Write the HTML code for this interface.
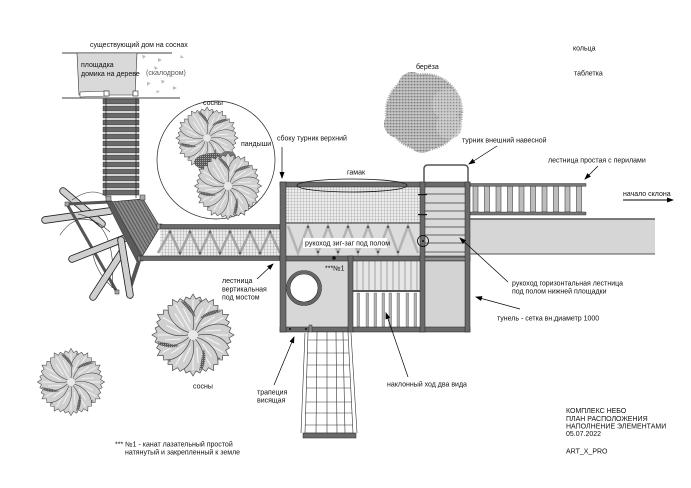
<!DOCTYPE html>
<html><head><meta charset="utf-8">
<style>
html,body{margin:0;padding:0;background:#fff;}
svg{display:block;}
text{font-family:"Liberation Sans",Arial,sans-serif;font-size:7px;fill:#111;}
</style></head><body>
<svg width="691" height="488" viewBox="0 0 691 488" xmlns="http://www.w3.org/2000/svg">
<defs>
<pattern id="mesh" width="3" height="3" patternUnits="userSpaceOnUse">
<rect width="3" height="3" fill="#ededed"/>
<path d="M0 0.5H3M0.5 0V3" stroke="#b9b9b9" stroke-width="0.6"/>
</pattern>
<pattern id="speck" width="3" height="3" patternUnits="userSpaceOnUse">
<rect width="3" height="3" fill="#b8b8b8"/>
<circle cx="0.7" cy="0.7" r="0.6" fill="#6a6a6a"/>
<circle cx="2.1" cy="2.1" r="0.5" fill="#eeeeee"/>
<circle cx="2.3" cy="0.5" r="0.35" fill="#888"/>
</pattern>
<pattern id="speckL" width="3" height="3" patternUnits="userSpaceOnUse">
<rect width="3" height="3" fill="#c6c6c6"/>
<circle cx="0.7" cy="0.7" r="0.55" fill="#7a7a7a"/>
<circle cx="2.1" cy="2.1" r="0.5" fill="#f0f0f0"/>
</pattern>
<pattern id="dspeck" width="2" height="2" patternUnits="userSpaceOnUse">
<rect width="2" height="2" fill="#5a5a5a"/>
<circle cx="0.5" cy="0.5" r="0.45" fill="#c8c8c8"/>
</pattern>
<pattern id="stripes" width="3" height="3" patternUnits="userSpaceOnUse" patternTransform="rotate(60)">
<rect width="3" height="3" fill="#8a8a8a"/>
<path d="M0 1.5H3" stroke="#4a4a4a" stroke-width="0.8"/>
</pattern>
<marker id="ah" markerWidth="7" markerHeight="6" refX="6" refY="3" orient="auto" markerUnits="userSpaceOnUse">
<path d="M0,0.5 L7,3 L0,5.5z" fill="#000"/>
</marker>
<g id="petal">
<path d="M0,-2 C9,-10 13,-22 10,-32 L7,-38 L3,-36 L0,-41 L-3,-36 L-7,-38 L-10,-32 C-13,-22 -9,-10 0,-2z" fill="#d0d0d0" stroke="#4a4a4a" stroke-width="0.7"/>
<path d="M0,-6 L0,-35 M-4,-12 L-5,-28 M4,-12 L5,-28" stroke="#f4f4f4" stroke-width="1.1"/>
</g>
<g id="petalD">
<use href="#petal"/>
<path d="M10,-32 C13,-26 13,-20 11,-14 C9,-20 8,-28 6,-36z" fill="url(#dspeck)"/>
</g>
<g id="petalE">
<use href="#petal"/>
<path d="M-10,-32 C-13,-26 -13,-20 -11,-14 C-9,-20 -8,-28 -6,-36z" fill="url(#dspeck)"/>
</g>
<g id="pine">
<use href="#petalD" transform="rotate(0)"/>
<use href="#petal" transform="rotate(30)"/>
<use href="#petalE" transform="rotate(60)"/>
<use href="#petal" transform="rotate(90)"/>
<use href="#petalD" transform="rotate(120)"/>
<use href="#petal" transform="rotate(150)"/>
<use href="#petalE" transform="rotate(180)"/>
<use href="#petalD" transform="rotate(210)"/>
<use href="#petal" transform="rotate(240)"/>
<use href="#petalE" transform="rotate(270)"/>
<use href="#petal" transform="rotate(300)"/>
<use href="#petalD" transform="rotate(330)"/>
<circle r="5" fill="#e8e8e8"/>
</g>
</defs>

<rect width="691" height="488" fill="#fff"/>

<!-- house -->
<text x="90" y="47">существующий дом на соснах</text>
<line x1="62" y1="53" x2="172" y2="53" stroke="#000" stroke-width="0.8"/>
<line x1="62" y1="98" x2="180" y2="98" stroke="#000" stroke-width="0.8"/>
<polygon points="77,53 137,53 135,95 79,95" fill="#d9d9d9" stroke="#333" stroke-width="0.6"/>
<polygon points="80,92 108,91 108,96 80,97" fill="#fff" stroke="#333" stroke-width="0.5"/>
<rect x="104" y="91" width="5" height="5" fill="#fff" stroke="#222" stroke-width="0.6"/>
<rect x="133" y="91" width="5" height="5" fill="#fff" stroke="#222" stroke-width="0.6"/>
<text x="81" y="67">площадка</text>
<text x="81" y="76">домика на дереве</text>
<text x="146" y="75" style="fill:#555">(скалодром)</text>
<g fill="#bdbdbd">
<polygon points="142,55 146,56 143,59"/><polygon points="158,58 162,60 158,62"/><polygon points="181,55 184,58 180,58"/>
<polygon points="154,66 158,68 155,70"/><polygon points="170,74 173,77 169,77"/><polygon points="147,82 151,83 147,86"/>
<polygon points="161,80 165,81 162,84"/><polygon points="173,86 177,88 173,90"/><polygon points="157,90 160,92 156,93"/>
</g>

<!-- upper ladder -->
<g fill="#6a6a6a" stroke="#222" stroke-width="0.4">
<rect x="103" y="99" width="36" height="5"/><rect x="103" y="106" width="36" height="5"/><rect x="103" y="113" width="36" height="5"/>
<rect x="103" y="120" width="36" height="5"/><rect x="103" y="127" width="36" height="5"/><rect x="103" y="134" width="36" height="5"/>
<rect x="103" y="141" width="36" height="5"/><rect x="103" y="148" width="36" height="5"/><rect x="103" y="155" width="36" height="5"/>
<rect x="103" y="162" width="36" height="5"/><rect x="103" y="169" width="36" height="5"/><rect x="103" y="176" width="36" height="5"/>
<rect x="103" y="183" width="36" height="5"/><rect x="103" y="190" width="36" height="5"/>
</g>
<line x1="106" y1="98" x2="106" y2="198" stroke="#222" stroke-width="0.7"/>
<line x1="136" y1="98" x2="136" y2="198" stroke="#222" stroke-width="0.7"/>

<!-- logs -->
<g stroke-linecap="round">
<line x1="63" y1="191" x2="102" y2="224" stroke="#222" stroke-width="7.5"/><line x1="63" y1="191" x2="102" y2="224" stroke="#cfcfcf" stroke-width="5.8"/>
<line x1="45" y1="220" x2="110" y2="211" stroke="#222" stroke-width="7.5"/><line x1="45" y1="220" x2="110" y2="211" stroke="#cfcfcf" stroke-width="5.8"/>
</g>
<path d="M67,204 L117,292" stroke="#555" stroke-width="3" fill="none"/>
<path d="M67,204 L109,202" stroke="#555" stroke-width="3" fill="none"/>
<path d="M72,200 Q100,180 118,210 M78,214 Q118,222 112,288 M92,250 Q96,275 116,290 M60,235 Q80,205 110,232" stroke="#333" stroke-width="0.6" fill="none"/>
<g stroke-linecap="round">
<line x1="72" y1="259" x2="138" y2="233" stroke="#222" stroke-width="7.5"/><line x1="72" y1="259" x2="138" y2="233" stroke="#cfcfcf" stroke-width="5.8"/>
<line x1="93" y1="297" x2="122" y2="252" stroke="#222" stroke-width="7.5"/><line x1="93" y1="297" x2="122" y2="252" stroke="#cfcfcf" stroke-width="5.8"/>
</g>
<!-- landing -->
<polygon points="109,202 143,199 160,227 140,260" fill="url(#stripes)" stroke="#222" stroke-width="0.6"/>
<polygon points="106,201 112,201 143,259 137,262" fill="#5a5a5a" stroke="#222" stroke-width="0.4"/>
<line x1="139" y1="261" x2="128" y2="294" stroke="#555" stroke-width="4"/>
<g stroke-linecap="round">
<line x1="130" y1="295" x2="121" y2="240" stroke="#222" stroke-width="7.5"/><line x1="130" y1="295" x2="121" y2="240" stroke="#cfcfcf" stroke-width="5.8"/>
</g>
<g fill="#aaa" stroke="#222" stroke-width="0.5">
<rect x="65" y="202" width="4" height="4"/><rect x="115" y="290" width="4" height="4"/>
<rect x="106" y="196" width="5" height="5"/><rect x="140" y="195" width="5" height="5"/>
<rect x="157" y="224" width="5" height="5"/><rect x="138" y="256" width="5" height="5"/>
</g>

<!-- bridge -->
<rect x="160" y="229" width="120" height="27" fill="url(#mesh)"/>
<polyline points="158,253 170,232 180,253 190,232 200,253 210,232 220,253 230,232 240,253 250,232 260,253 270,232 280,253" fill="none" stroke="#a3a3a3" stroke-width="2.5"/>
<g fill="#666">
<circle cx="170" cy="232" r="1.4"/><circle cx="190" cy="232" r="1.4"/><circle cx="210" cy="232" r="1.4"/><circle cx="230" cy="232" r="1.4"/><circle cx="250" cy="232" r="1.4"/><circle cx="270" cy="232" r="1.4"/>
<circle cx="180" cy="253" r="1.4"/><circle cx="200" cy="253" r="1.4"/><circle cx="220" cy="253" r="1.4"/><circle cx="240" cy="253" r="1.4"/><circle cx="260" cy="253" r="1.4"/>
</g>
<rect x="160" y="224.5" width="120" height="4.5" fill="#6a6a6a" stroke="#222" stroke-width="0.5"/>
<rect x="140" y="256" width="140" height="4.5" fill="#6a6a6a" stroke="#222" stroke-width="0.5"/>

<!-- tower upper -->
<rect x="286" y="186" width="134" height="37" fill="url(#mesh)"/>
<rect x="286" y="223" width="134" height="33" fill="#dcdcdc"/>
<polyline points="288,226 298,253 308,226 318,253 328,226 338,253 348,226 358,253 368,226 378,253 388,226 398,253 408,226 418,253" fill="none" stroke="#b3b3b3" stroke-width="2.5"/>
<g fill="#555">
<circle cx="308" cy="227" r="1.2"/><circle cx="328" cy="227" r="1.2"/><circle cx="348" cy="227" r="1.2"/><circle cx="368" cy="227" r="1.2"/><circle cx="388" cy="227" r="1.2"/><circle cx="408" cy="227" r="1.2"/>
<circle cx="318" cy="252" r="1.2"/><circle cx="338" cy="252" r="1.2"/><circle cx="358" cy="252" r="1.2"/><circle cx="378" cy="252" r="1.2"/><circle cx="398" cy="252" r="1.2"/>
</g>
<line x1="286" y1="223" x2="420" y2="223" stroke="#333" stroke-width="1"/>
<rect x="303" y="238" width="84" height="10" fill="#fff"/>
<text x="305" y="245.5">рукоход зиг-заг под полом</text>

<!-- ladder in tower -->
<rect x="425" y="187" width="40" height="69" fill="#dadada"/>
<g stroke="#8a8a8a" stroke-width="1.5">
<line x1="425" y1="194" x2="465" y2="194"/><line x1="425" y1="203" x2="465" y2="203"/><line x1="425" y1="211" x2="465" y2="211"/>
<line x1="425" y1="219" x2="465" y2="219"/><line x1="425" y1="227" x2="465" y2="227"/><line x1="425" y1="235" x2="465" y2="235"/>
<line x1="425" y1="243" x2="465" y2="243"/><line x1="425" y1="252" x2="465" y2="252"/>
</g>

<!-- right platform -->
<rect x="470" y="219" width="185" height="35" fill="#d6d6d6"/>
<line x1="470" y1="219" x2="655" y2="219" stroke="#555" stroke-width="1.6"/>
<line x1="470" y1="254" x2="655" y2="254" stroke="#555" stroke-width="1"/>

<!-- stair with railing -->
<g fill="#bdbdbd" stroke="#222" stroke-width="0.5">
<rect x="473" y="186" width="5" height="26"/><rect x="484.5" y="186" width="5" height="26"/><rect x="496" y="186" width="5" height="26"/>
<rect x="507.5" y="186" width="5" height="26"/><rect x="519" y="186" width="5" height="26"/><rect x="530.5" y="186" width="5" height="26"/>
<rect x="542" y="186" width="5" height="26"/><rect x="553.5" y="186" width="5" height="26"/><rect x="565" y="186" width="5" height="26"/>
<rect x="576.5" y="186" width="5" height="26"/>
</g>
<rect x="470" y="183.5" width="116" height="2.8" fill="#777" stroke="#222" stroke-width="0.4"/>
<rect x="470" y="212" width="116" height="3" fill="#777" stroke="#222" stroke-width="0.4"/>

<!-- tower lower -->
<rect x="286" y="261" width="62" height="66" fill="#d7d7d7"/>
<circle cx="304" cy="288" r="17.5" fill="none" stroke="#222" stroke-width="0.6"/>
<circle cx="304" cy="288" r="15.7" fill="#fff" stroke="#666" stroke-width="3"/>
<circle cx="304" cy="288" r="14" fill="none" stroke="#222" stroke-width="0.6"/>
<rect x="353" y="261" width="67" height="30" fill="#e6e6e6"/>
<g stroke="#b8b8b8" stroke-width="1.5">
<line x1="357" y1="261" x2="357" y2="291"/><line x1="363" y1="261" x2="363" y2="291"/><line x1="369" y1="261" x2="369" y2="291"/>
<line x1="375" y1="261" x2="375" y2="291"/><line x1="381" y1="261" x2="381" y2="291"/><line x1="387" y1="261" x2="387" y2="291"/>
<line x1="393" y1="261" x2="393" y2="291"/><line x1="399" y1="261" x2="399" y2="291"/><line x1="405" y1="261" x2="405" y2="291"/>
<line x1="411" y1="261" x2="411" y2="291"/><line x1="417" y1="261" x2="417" y2="291"/>
</g>
<rect x="353" y="292" width="67" height="35" fill="#fff"/>
<g fill="#b0b0b0" stroke="#444" stroke-width="0.3">
<rect x="357" y="293" width="2.6" height="34"/><rect x="366" y="293" width="2.6" height="34"/><rect x="374" y="293" width="2.6" height="34"/>
<rect x="382" y="293" width="2.6" height="34"/><rect x="389" y="293" width="2.6" height="34"/><rect x="397" y="293" width="2.6" height="34"/>
<rect x="406" y="293" width="2.6" height="34"/><rect x="414" y="293" width="2.6" height="34"/>
</g>
<line x1="353" y1="291" x2="420" y2="291" stroke="#555" stroke-width="2"/>
<rect x="425" y="261" width="40" height="66" fill="#d3d3d3"/>

<!-- beams / columns -->
<g fill="#6a6a6a" stroke="#222" stroke-width="0.5">
<rect x="280" y="182" width="190" height="5"/>
<rect x="280" y="256" width="190" height="5"/>
<rect x="280" y="327" width="190" height="5"/>
<rect x="280" y="182" width="6" height="150"/>
<rect x="420" y="182" width="5" height="150"/>
<rect x="465" y="182" width="5" height="150"/>
<rect x="348" y="256" width="5" height="76"/>
</g>
<line x1="425" y1="259" x2="465" y2="259" stroke="#bbb" stroke-width="0.8"/>
<g fill="#111">
<circle cx="334" cy="258" r="1.8"/>
<circle cx="290" cy="329" r="1"/><circle cx="306" cy="329" r="1"/>
<rect x="418" y="194" width="9" height="1.2"/><rect x="418" y="214" width="9" height="1.2"/>
<circle cx="423" cy="241" r="1"/>
</g>
<rect x="309" y="325" width="3" height="8" fill="#888" stroke="#222" stroke-width="0.4"/>
<circle cx="423" cy="241" r="5.5" fill="none" stroke="#000" stroke-width="0.8"/>

<!-- hammock & turnik -->
<ellipse cx="352" cy="185.5" rx="55" ry="6.5" fill="none" stroke="#111" stroke-width="0.8"/>
<text x="347" y="174.5">гамак</text>
<path d="M424,183 V169 Q424,165 428,165 H464 Q468,165 468,169 V183" fill="none" stroke="#555" stroke-width="1.5"/>
<text x="325" y="270.5">***№1</text>

<!-- trapeze net -->
<g stroke="#333" stroke-width="0.6" fill="none">
<polygon points="308,332 348,332 353,433 305,433" fill="#fff"/>
<path d="M305,333 L301,433 M351,333 L357,433"/>
<path d="M317,332 L316,433 M327,332 L327,433 M336,332 L337,433 M343,332 L345,433"/>
<path d="M308,340 H348 M307,353 H349 M307,365 H350 M306,377 H350 M306,388 H351 M306,402 H352 M305,413 H352 M305,425 H353"/>
</g>
<rect x="303" y="433" width="53" height="5" fill="#6a6a6a" stroke="#222" stroke-width="0.5"/>

<!-- circle with pines -->
<circle cx="216" cy="160" r="59" fill="none" stroke="#222" stroke-width="0.7"/>
<use href="#pine" transform="translate(207,138) scale(0.76)"/>
<ellipse cx="214" cy="162" rx="20" ry="9" fill="url(#dspeck)"/>
<ellipse cx="228" cy="157" rx="8" ry="6" fill="#777"/>
<use href="#pine" transform="translate(228,186) scale(0.82)"/>
<text x="203" y="105">сосны</text>
<text x="241" y="146">пандыши</text>

<!-- birch -->
<g>
<circle cx="424" cy="112" r="38" fill="url(#speck)" stroke="#aaa" stroke-width="2.5" stroke-dasharray="1 1.3"/>
<circle cx="412" cy="86" r="14" fill="url(#speck)"/>
<circle cx="398" cy="124" r="14" fill="url(#speck)"/>
<circle cx="422" cy="140" r="13" fill="url(#speck)"/>
<circle cx="447" cy="104" r="15" fill="url(#speckL)" opacity="0.8"/>
<circle cx="449" cy="126" r="13" fill="url(#speckL)" opacity="0.8"/>
</g>
<text x="416" y="69">берёза</text>

<!-- other pines -->
<use href="#pine" transform="translate(193,335) scale(1.0)"/>
<text x="193" y="388.5">сосны</text>
<use href="#pine" transform="translate(71,382) scale(0.82)"/>

<!-- labels & arrows -->
<g stroke="#000" stroke-width="0.7" marker-end="url(#ah)">
<line x1="282" y1="147" x2="282" y2="178"/>
<line x1="497" y1="146" x2="469" y2="164"/>
<line x1="598" y1="166" x2="585" y2="179"/>
<line x1="257" y1="279" x2="273" y2="264"/>
<line x1="508" y1="282" x2="460" y2="238"/>
<line x1="520" y1="309" x2="476" y2="297"/>
<line x1="408" y1="377" x2="386" y2="313"/>
<line x1="274" y1="385" x2="294" y2="337"/>
<line x1="623" y1="200" x2="673" y2="200" stroke-width="1"/>
</g>
<text x="277" y="140.5">сбоку турник верхний</text>
<text x="462" y="142.5">турник внешний навесной</text>
<text x="573" y="50.5">кольца</text>
<text x="574" y="75.5">таблетка</text>
<text x="548" y="162.5">лестница простая с перилами</text>
<text x="623" y="196">начало склона</text>
<text x="222" y="283">лестница</text>
<text x="222" y="291.5">вертикальная</text>
<text x="222" y="299.5">под мостом</text>
<text x="512" y="285.5">рукоход горизонтальная лестница</text>
<text x="512" y="293.5">под полом нижней площадки</text>
<text x="497" y="320.5">тунель - сетка вн.диаметр 1000</text>
<text x="257" y="394.5">трапеция</text>
<text x="257" y="402.5">висящая</text>
<text x="387" y="386.5">наклонный ход два вида</text>
<text x="115" y="446.5">*** №1 - канат лазательный простой</text>
<text x="125" y="454.5">натянутый и закрепленный к земле</text>
<text x="566" y="413">КОМПЛЕКС НЕБО</text>
<text x="566" y="421">ПЛАН РАСПОЛОЖЕНИЯ</text>
<text x="566" y="428.5">НАПОЛНЕНИЕ ЭЛЕМЕНТАМИ</text>
<text x="566" y="436">05.07.2022</text>
<text x="566" y="453.5">ART_X_PRO</text>
</svg>
</body></html>
